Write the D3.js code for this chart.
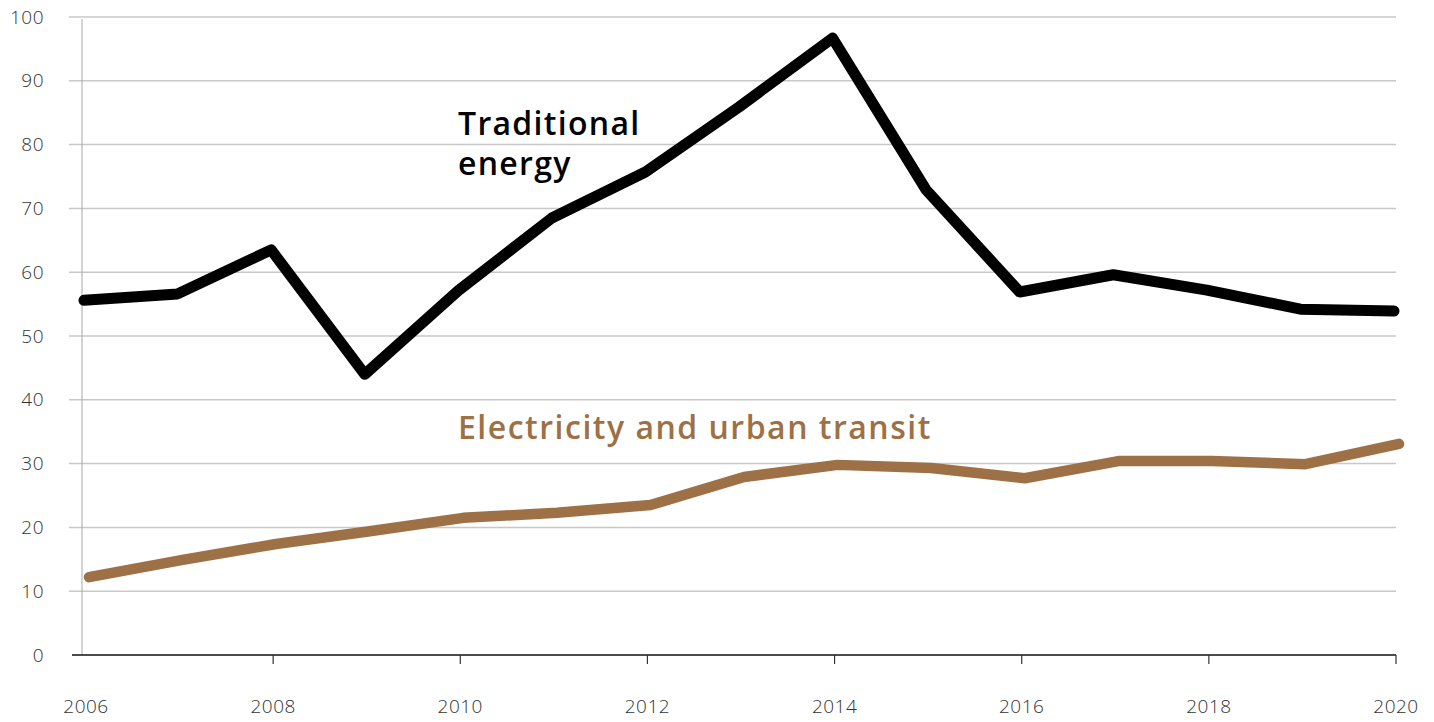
<!DOCTYPE html>
<html>
<head>
<meta charset="utf-8">
<script src="https://cdn.jsdelivr.net/npm/d3@7"></script>
<style>
  body { margin: 0; background: #fff; }
  svg { display: block; font-family: "Open Sans", "Lato", sans-serif; }
</style>
</head>
<body>
<div id="chart"></div>
<script>
// data
var years = [2006, 2007, 2008, 2009, 2010, 2011, 2012, 2013, 2014, 2015, 2016, 2017, 2018, 2019, 2020];
var traditional = [55.6, 56.6, 63.5, 44.0, 57.1, 68.5, 75.7, 85.9, 96.7, 72.9, 56.9, 59.6, 57.2, 54.2, 53.9];
var electricity = [12.2, 14.9, 17.4, 19.4, 21.5, 22.3, 23.5, 27.9, 29.8, 29.3, 27.7, 30.4, 30.4, 29.9, 33.1];
var xTicks = [2006, 2008, 2010, 2012, 2014, 2016, 2018, 2020];
var yTicks = [0, 10, 20, 30, 40, 50, 60, 70, 80, 90, 100];

var svgWidth = 1434;
var svgHeight = 722;

var svg = d3.select("#chart")
  .append("svg")
  .attr("width", svgWidth)
  .attr("height", svgHeight);

var x = d3.scaleLinear()
  .domain([2006, 2020])
  .range([86, 1396]);

var y = d3.scaleLinear()
  .domain([0, 100])
  .range([655, 17]);

// horizontal gridlines
svg.append("g")
  .selectAll("line")
  .data(yTicks.filter(d => d > 0))
  .enter()
  .append("line")
  .attr("x1", 69)
  .attr("x2", 1396)
  .attr("y1", d => y(d))
  .attr("y2", d => y(d))
  .attr("stroke", "#c8c8c8")
  .attr("stroke-width", 1.5);

// y tick labels
svg.append("g")
  .selectAll("text")
  .data(yTicks)
  .enter()
  .append("text")
  .attr("x", 44)
  .attr("y", d => y(d))
  .attr("dy", "0.35em")
  .attr("text-anchor", "end")
  .attr("font-size", "19px")
  .attr("font-weight", 300)
  .attr("letter-spacing", "0.5px")
  .attr("fill", "#333")
  .text(d => d);

// vertical axis line
svg.append("line")
  .attr("x1", 82)
  .attr("x2", 82)
  .attr("y1", 19)
  .attr("y2", 655)
  .attr("stroke", "#a8a8a8")
  .attr("stroke-width", 1);

// x axis
var xAxis = svg.append("g")
  .attr("transform", `translate(0, ${y(0)})`);

xAxis.append("line")
  .attr("x1", 72)
  .attr("x2", x(2020))
  .attr("stroke", "#111")
  .attr("stroke-width", 1.5);

xAxis.selectAll(".tick")
  .data(xTicks.filter(d => d > 2006))
  .enter()
  .append("line")
  .attr("x1", d => x(d))
  .attr("x2", d => x(d))
  .attr("y1", 0)
  .attr("y2", 9)
  .attr("stroke", "#333")
  .attr("stroke-width", 1.2);

xAxis.selectAll("text")
  .data(xTicks)
  .enter()
  .append("text")
  .attr("x", d => x(d))
  .attr("y", 51)
  .attr("dy", "0.35em")
  .attr("text-anchor", "middle")
  .attr("font-size", "19px")
  .attr("font-weight", 300)
  .attr("letter-spacing", "0.5px")
  .attr("fill", "#333")
  .text(d => d);

// lines
var line = d3.line()
  .x((d, i) => x(years[i]))
  .y(d => y(d));

svg.append("path")
  .datum(electricity)
  .attr("transform", "translate(3, 0)")
  .attr("fill", "none")
  .attr("stroke", "#9d7045")
  .attr("stroke-width", 10.5)
  .attr("stroke-linecap", "round")
  .attr("stroke-linejoin", "round")
  .attr("d", line);

svg.append("path")
  .datum(traditional)
  .attr("transform", "translate(-2, 0)")
  .attr("fill", "none")
  .attr("stroke", "#000")
  .attr("stroke-width", 11)
  .attr("stroke-linecap", "round")
  .attr("stroke-linejoin", "round")
  .attr("d", line);

// annotations
var trad = svg.append("text")
  .attr("x", 458)
  .attr("y", 135)
  .attr("font-size", "32px")
  .attr("font-weight", 600)
  .attr("letter-spacing", "1.3px")
  .attr("fill", "#000");
trad.append("tspan").attr("x", 458).text("Traditional");
trad.append("tspan").attr("x", 458).attr("dy", 40).text("energy");

svg.append("text")
  .attr("x", 458)
  .attr("y", 439)
  .attr("font-size", "32px")
  .attr("font-weight", 600)
  .attr("letter-spacing", "1.5px")
  .attr("fill", "#9d7045")
  .text("Electricity and urban transit");
</script>
</body>
</html>
